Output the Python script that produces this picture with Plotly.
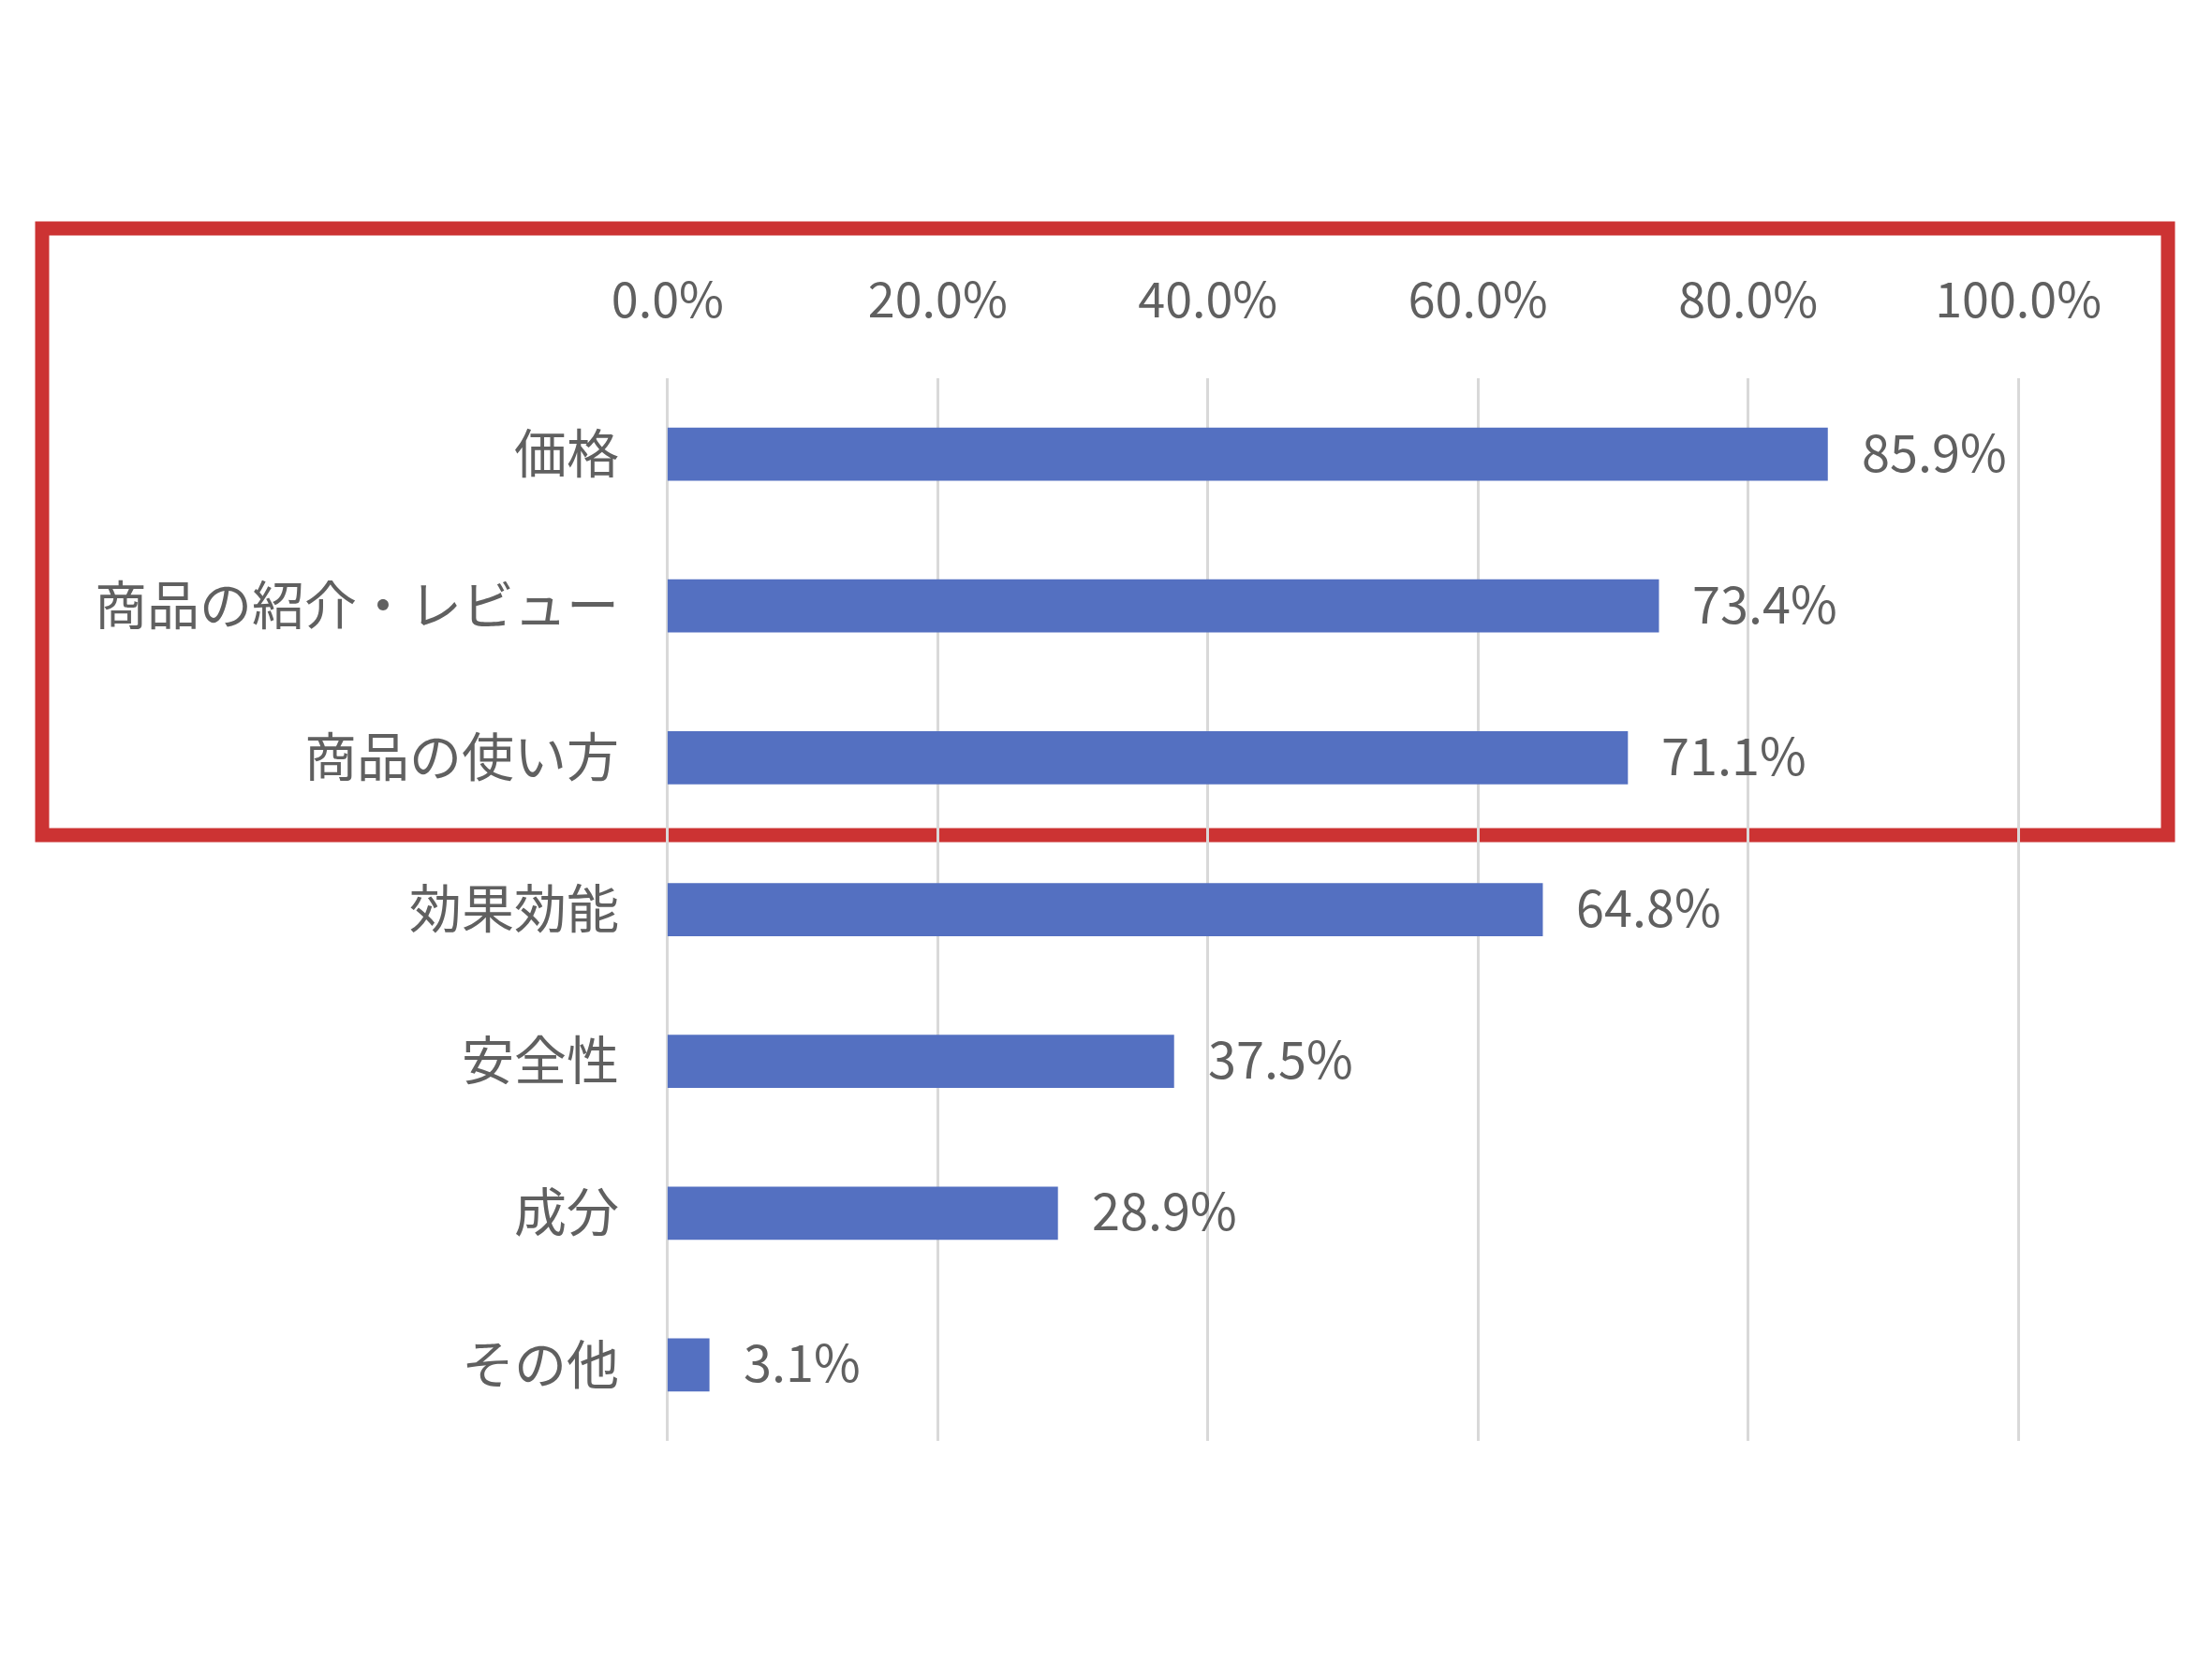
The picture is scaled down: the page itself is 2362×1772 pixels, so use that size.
import plotly.graph_objects as go

# survey answers (share of respondents)
categories = ["価格", "商品の紹介・レビュー", "商品の使い方", "効果効能", "安全性", "成分", "その他"]
values = [0.859, 0.734, 0.711, 0.648, 0.375, 0.289, 0.031]
tick_vals = [0.0, 0.2, 0.4, 0.6, 0.8, 1.0]

BAR_COLOR = "#5470C1"
TEXT_COLOR = "#606060"
GRID_COLOR = "#d9d9d9"
FONT = "Noto Sans CJK JP"

# plot area in page pixels (page body adds an 8px offset)
L, T, W, H = 702, 396, 1448, 1135

fig = go.Figure()
fig.add_trace(go.Bar(
    x=values, y=categories, orientation="h",
    marker=dict(color=BAR_COLOR, line=dict(width=0)),
    hoverinfo="skip",
))

# value labels to the right of each bar
for cat, v in zip(categories, values):
    fig.add_annotation(
        x=v, y=cat, xref="x", yref="y",
        text=f"{v * 100:.1f}%", showarrow=False,
        xanchor="left", yanchor="middle", xshift=34, yshift=5,
        font=dict(family=FONT, size=54, color=TEXT_COLOR),
    )

# red highlight frame around the top three items
fig.add_shape(
    type="rect", xref="paper", yref="paper",
    x0=(37 - L) / W, x1=(2307 - L) / W,
    y0=(T + H - 884) / H, y1=(T + H - 236) / H,
    line=dict(color="#CC3333", width=15),
    fillcolor="rgba(0,0,0,0)", layer="below",
)

fig.update_layout(
    width=2362, height=1772,
    margin=dict(l=L, r=2362 - L - W, t=T, b=1772 - T - H),
    paper_bgcolor="white", plot_bgcolor="rgba(0,0,0,0)",
    showlegend=False, bargap=0.65,
    font=dict(family=FONT, color=TEXT_COLOR),
    xaxis=dict(
        side="top", range=[-0.002, 1.002], tickvals=tick_vals, tickformat=".1%",
        showgrid=True, gridcolor=GRID_COLOR, gridwidth=3,
        zeroline=False, showline=False, ticks="",
        tickfont=dict(family=FONT, size=52, color=TEXT_COLOR),
        ticklabelstandoff=54,
    ),
    yaxis=dict(
        autorange="reversed", showgrid=False, zeroline=False, showline=False,
        ticks="", tickfont=dict(family=FONT, size=56, color=TEXT_COLOR),
        ticklabelstandoff=48,
    ),
)

fig.write_html("out.html")
